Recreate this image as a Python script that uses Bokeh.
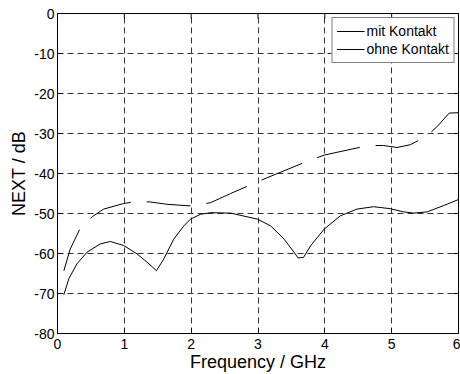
import math
from bokeh.plotting import figure
from bokeh.models import Range1d, Legend, LegendItem, FixedTicker
from bokeh.embed import file_html
from bokeh.resources import INLINE

# Data
freq_ohne = [0.095, 0.17, 0.29, 0.44, 0.64, 0.79, 0.99, 1.19, 1.37, 1.48, 1.59, 1.74, 1.89,
             1.99, 2.14, 2.29, 2.59, 2.99, 3.19, 3.39, 3.54, 3.60, 3.68, 3.79, 3.99, 4.23,
             4.48, 4.73, 4.98, 5.18, 5.33, 5.53, 5.78, 6.0]
next_ohne = [-70.3, -66.3, -62.6, -59.7, -57.6, -57.0, -58.0, -60.1, -62.6, -64.3, -61.4,
             -56.4, -53.1, -51.4, -50.2, -49.8, -49.9, -51.4, -53.1, -56.4, -59.7, -61.1,
             -61.0, -58.0, -53.9, -50.6, -48.9, -48.3, -48.8, -49.6, -49.9, -49.6, -48.0, -46.5]

freq_mit = [0.095, 0.19, 0.34, 0.52, 0.69, 0.99, 1.14, 1.38, 1.64, 1.99, 2.29, 2.59, 2.91,
            3.13, 3.76, 3.99, 4.65, 4.88, 5.08, 5.28, 5.53, 5.69, 5.86, 6.0]
next_mit = [-64.3, -58.9, -53.7, -50.8, -48.9, -47.5, -47.1, -47.1, -47.7, -48.1, -47.3,
            -45.0, -42.7, -41.1, -36.8, -35.4, -33.0, -33.0, -33.5, -32.8, -30.6, -28.1,
            -24.9, -24.8]

series_names = ["mit Kontakt", "ohne Kontakt"]
x_ticks = [0, 1, 2, 3, 4, 5, 6]
y_ticks = [-80, -70, -60, -50, -40, -30, -20, -10, 0]
x_min, x_max = 0, 6
y_min, y_max = -80, 0

FONT = "Liberation Sans"

p = figure(width=460, height=374, output_backend="svg", toolbar_location=None,
           x_range=Range1d(x_min, x_max), y_range=Range1d(y_min, y_max),
           min_border_left=57, min_border_right=2, min_border_top=13, min_border_bottom=39)

p.background_fill_color = "white"
p.border_fill_color = "white"
p.outline_line_color = "black"
p.outline_line_width = 1

for ax, ticks in ((p.xaxis[0], x_ticks), (p.yaxis[0], y_ticks)):
    ax.ticker = FixedTicker(ticks=ticks)
    ax.major_label_overrides = {t: str(t) for t in ticks}
    ax.axis_line_color = "black"
    ax.major_tick_line_color = "black"
    ax.major_tick_in = 5
    ax.major_tick_out = 0
    ax.minor_tick_line_color = None
    ax.major_label_text_font = FONT
    ax.major_label_text_font_size = "14px"
    ax.major_label_text_color = "black"
    ax.axis_label_text_font = FONT
    ax.axis_label_text_font_size = "18px"
    ax.axis_label_text_font_style = "normal"
    ax.axis_label_text_color = "black"

p.xaxis.axis_label = "Frequency / GHz"
p.yaxis.axis_label = "NEXT / dB"
p.xaxis.major_label_standoff = 5
p.xaxis.axis_label_standoff = 0
p.yaxis.major_label_standoff = 3
p.yaxis.axis_label_standoff = 2

for g, ticks in ((p.xgrid[0], x_ticks), (p.ygrid[0], y_ticks)):
    g.ticker = FixedTicker(ticks=ticks)
    g.grid_line_color = "#333333"
    g.grid_line_dash = "6 4"
    g.grid_line_width = 1

# inward tick marks on the top and right edges of the box (half of each marker is clipped)
p.scatter(x_ticks, [y_max] * len(x_ticks), marker="dash", size=10, angle=math.pi / 2,
          line_color="black", line_width=1)
p.scatter([x_max] * len(y_ticks), y_ticks, marker="dash", size=10,
          line_color="black", line_width=1)

p.line(freq_mit, next_mit, line_color="black", line_width=1, line_dash="44 16")
p.line(freq_ohne, next_ohne, line_color="black", line_width=1)

# legend samples (drawn solid, as in the reference); data lies outside the view
r_mit = p.line([x_min - 10, x_min - 9], [y_min - 10, y_min - 10], line_color="black", line_width=1)
r_ohne = p.line([x_min - 10, x_min - 9], [y_min - 10, y_min - 10], line_color="black", line_width=1)

legend = Legend(items=[LegendItem(label=series_names[0], renderers=[r_mit]),
                       LegendItem(label=series_names[1], renderers=[r_ohne])],
                location="top_right", margin=4, padding=4, spacing=0,
                label_text_font=FONT, label_text_font_size="14px",
                label_text_color="black", label_height=18, glyph_height=18,
                glyph_width=28, label_standoff=2,
                border_line_color="black", border_line_width=1,
                background_fill_color="white", background_fill_alpha=1)
p.add_layout(legend)

open("out.html", "w").write(file_html(p, INLINE))
